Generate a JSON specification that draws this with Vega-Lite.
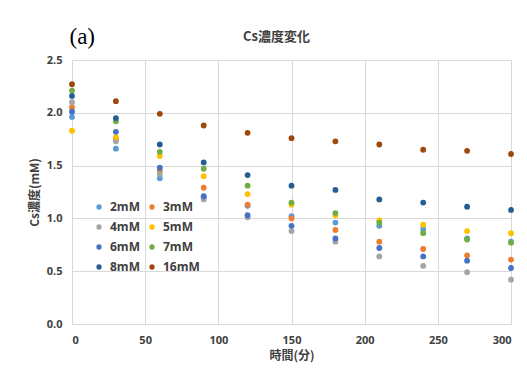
{
  "$schema": "https://vega.github.io/schema/vega-lite/v6.json",
  "autosize": {"type": "none"},
  "padding": {"left": 72, "top": 60, "right": 16, "bottom": 53},
  "width": 439,
  "height": 264,
  "background": "white",
  "title": {"text": "Cs濃度変化", "anchor": "middle", "dx": -15, "offset": -18, "font": "Noto Sans CJK JP", "fontSize": 13, "fontWeight": "bold", "color": "#404040"},
  "config": {
    "view": {"stroke": null},
    "axis": {"gridColor": "#d9d9d9", "domainColor": "#d9d9d9", "ticks": false, "labelFont": "Open Sans", "labelFontWeight": "bold", "labelFontSize": 11, "labelColor": "#404040", "titleFont": "Noto Sans CJK JP", "titleFontWeight": "bold", "titleFontSize": 12, "titleColor": "#404040"}
  },
  "datasets": {
    "main": [
      {"t":0,"s":"2mM","c":1.96},{"t":30,"s":"2mM","c":1.66},{"t":60,"s":"2mM","c":1.38},{"t":90,"s":"2mM","c":1.20},{"t":120,"s":"2mM","c":1.12},{"t":150,"s":"2mM","c":1.02},{"t":180,"s":"2mM","c":0.96},{"t":210,"s":"2mM","c":0.93},{"t":240,"s":"2mM","c":0.90},{"t":270,"s":"2mM","c":0.81},{"t":300,"s":"2mM","c":0.78},
      {"t":0,"s":"3mM","c":2.05},{"t":30,"s":"3mM","c":1.75},{"t":60,"s":"3mM","c":1.45},{"t":90,"s":"3mM","c":1.29},{"t":120,"s":"3mM","c":1.13},{"t":150,"s":"3mM","c":1.00},{"t":180,"s":"3mM","c":0.89},{"t":210,"s":"3mM","c":0.78},{"t":240,"s":"3mM","c":0.71},{"t":270,"s":"3mM","c":0.65},{"t":300,"s":"3mM","c":0.61},
      {"t":0,"s":"4mM","c":2.10},{"t":30,"s":"4mM","c":1.73},{"t":60,"s":"4mM","c":1.42},{"t":90,"s":"4mM","c":1.18},{"t":120,"s":"4mM","c":1.01},{"t":150,"s":"4mM","c":0.88},{"t":180,"s":"4mM","c":0.78},{"t":210,"s":"4mM","c":0.64},{"t":240,"s":"4mM","c":0.55},{"t":270,"s":"4mM","c":0.49},{"t":300,"s":"4mM","c":0.42},
      {"t":0,"s":"5mM","c":1.83},{"t":30,"s":"5mM","c":1.77},{"t":60,"s":"5mM","c":1.59},{"t":90,"s":"5mM","c":1.40},{"t":120,"s":"5mM","c":1.23},{"t":150,"s":"5mM","c":1.13},{"t":180,"s":"5mM","c":1.03},{"t":210,"s":"5mM","c":0.98},{"t":240,"s":"5mM","c":0.94},{"t":270,"s":"5mM","c":0.88},{"t":300,"s":"5mM","c":0.86},
      {"t":0,"s":"6mM","c":2.01},{"t":30,"s":"6mM","c":1.82},{"t":60,"s":"6mM","c":1.48},{"t":90,"s":"6mM","c":1.21},{"t":120,"s":"6mM","c":1.03},{"t":150,"s":"6mM","c":0.93},{"t":180,"s":"6mM","c":0.81},{"t":210,"s":"6mM","c":0.72},{"t":240,"s":"6mM","c":0.64},{"t":270,"s":"6mM","c":0.60},{"t":300,"s":"6mM","c":0.53},
      {"t":0,"s":"7mM","c":2.21},{"t":30,"s":"7mM","c":1.92},{"t":60,"s":"7mM","c":1.63},{"t":90,"s":"7mM","c":1.47},{"t":120,"s":"7mM","c":1.31},{"t":150,"s":"7mM","c":1.15},{"t":180,"s":"7mM","c":1.05},{"t":210,"s":"7mM","c":0.96},{"t":240,"s":"7mM","c":0.86},{"t":270,"s":"7mM","c":0.80},{"t":300,"s":"7mM","c":0.77},
      {"t":0,"s":"8mM","c":2.16},{"t":30,"s":"8mM","c":1.95},{"t":60,"s":"8mM","c":1.70},{"t":90,"s":"8mM","c":1.53},{"t":120,"s":"8mM","c":1.41},{"t":150,"s":"8mM","c":1.31},{"t":180,"s":"8mM","c":1.27},{"t":210,"s":"8mM","c":1.18},{"t":240,"s":"8mM","c":1.15},{"t":270,"s":"8mM","c":1.11},{"t":300,"s":"8mM","c":1.08},
      {"t":0,"s":"16mM","c":2.27},{"t":30,"s":"16mM","c":2.11},{"t":60,"s":"16mM","c":1.99},{"t":90,"s":"16mM","c":1.88},{"t":120,"s":"16mM","c":1.81},{"t":150,"s":"16mM","c":1.76},{"t":180,"s":"16mM","c":1.73},{"t":210,"s":"16mM","c":1.70},{"t":240,"s":"16mM","c":1.65},{"t":270,"s":"16mM","c":1.64},{"t":300,"s":"16mM","c":1.61}
    ],
    "label": [{"lab": "(a)", "t": 7, "c": 2.72}]
  },
  "layer": [
    {
      "data": {"name": "main"},
      "mark": {"type": "circle", "size": 34, "opacity": 1},
      "encoding": {
        "x": {"field": "t", "type": "quantitative", "scale": {"domain": [0, 300], "nice": false}, "axis": {"title": "時間(分)", "values": [0, 50, 100, 150, 200, 250, 300], "labelPadding": 10, "titlePadding": 5}},
        "y": {"field": "c", "type": "quantitative", "scale": {"domain": [0, 2.5], "nice": false}, "axis": {"title": "Cs濃度(mM)", "values": [0, 0.5, 1, 1.5, 2, 2.5], "format": ".1f", "labelPadding": 10, "titlePadding": 5}},
        "color": {
          "field": "s", "type": "nominal",
          "scale": {"domain": ["2mM", "4mM", "6mM", "8mM", "3mM", "5mM", "7mM", "16mM"], "range": ["#5B9BD5", "#A5A5A5", "#4472C4", "#255E91", "#ED7D31", "#FFC000", "#70AD47", "#9E480E"]},
          "legend": {"title": null, "orient": "none", "legendX": 21, "legendY": 141, "columns": 2, "columnPadding": 6, "rowPadding": 8, "padding": 0, "symbolType": "circle", "symbolSize": 28, "labelFont": "Open Sans", "labelFontWeight": "bold", "labelFontSize": 12, "labelColor": "#404040", "labelOffset": 5}
        }
      }
    },
    {
      "data": {"name": "label"},
      "mark": {"type": "text", "font": "Liberation Serif", "fontSize": 23, "color": "#000000", "clip": false},
      "encoding": {
        "x": {"field": "t", "type": "quantitative"},
        "y": {"field": "c", "type": "quantitative"},
        "text": {"field": "lab"}
      }
    }
  ]
}
